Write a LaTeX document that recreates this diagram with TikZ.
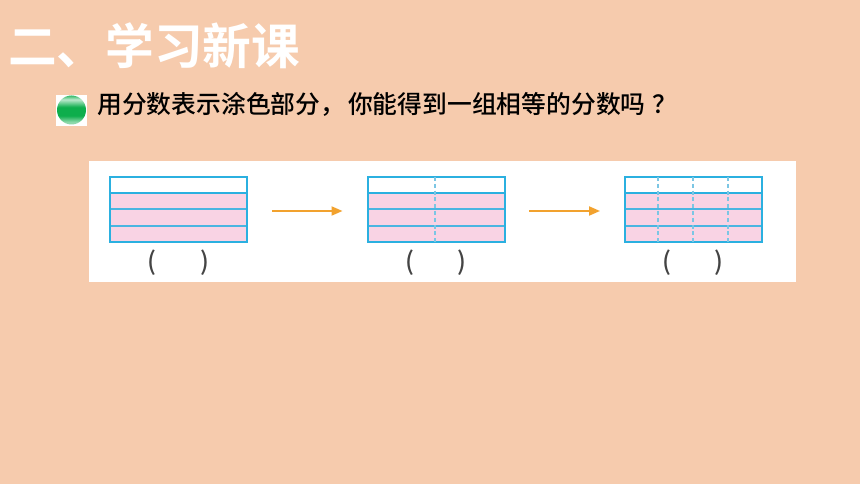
\documentclass[tikz,border=0pt]{standalone}
\usepackage{fontspec}
\setmainfont{Liberation Sans}
\newfontfamily\cjk{Noto Sans CJK SC Medium}
\newfontfamily\cjkb{Noto Sans CJK SC Bold}
\usetikzlibrary{arrows.meta}
\definecolor{bgp}{HTML}{F6CBAD}
\definecolor{barb}{HTML}{2BB0E0}
\definecolor{pinkf}{HTML}{F9D3E4}
\definecolor{arro}{HTML}{F2A22E}
\definecolor{dashb}{HTML}{7CC6E4}
\definecolor{gr}{HTML}{0EAE4C}
\definecolor{parc}{HTML}{444444}
\pgfdeclareverticalshading{ballshade}{100bp}{
  color(0bp)=(gr!50!white);
  color(25bp)=(gr!50!white);
  color(29bp)=(gr!45!white);
  color(40bp)=(gr);
  color(55bp)=(gr);
  color(68bp)=(gr!28!white);
  color(72bp)=(gr!60!white);
  color(75bp)=(gr!85!white);
  color(100bp)=(gr!85!white)}
\tikzset{
  x=1pt,y=-1pt,
  barline/.style={draw=barb,line width=2pt},
  thinbar/.style={draw=barb!85!pinkf,line width=2pt},
  dashline/.style={draw=dashb,line width=2pt,dash pattern=on 4pt off 2.8pt},
  flow/.style={draw=arro,line width=2pt,-{Triangle[length=11pt,width=9pt]}},
  paren/.style={inner sep=0pt,text=parc,font=\cjk\fontsize{25}{25}\selectfont},
}
\newcommand{\stripes}[1]{%
  \fill[pinkf] (#1,193) rectangle (#1+137,242);
  \draw[thinbar] (#1,209.5) -- (#1+137,209.5);
  \draw[thinbar] (#1,225.5) -- (#1+137,225.5);
  \draw[barline] (#1,193.5) -- (#1+137,193.5);
  \draw[barline] (#1,177) rectangle (#1+137,242);
}
\begin{document}
\begin{tikzpicture}
\useasboundingbox (0,0) rectangle (860,484);
\fill[bgp] (0,0) rectangle (860,484);
\node[anchor=west,inner sep=0pt,text=white] (title) at (8,46) {\cjkb\fontsize{48.7}{49}\selectfont 二、学习新课};
\fill[white] (56,95) rectangle (87,126);
\shade[shading=ballshade] (71.5,110) circle (14.5);
\node[anchor=west,inner sep=0pt,text=black] (q) at (97,104) {\cjk\fontsize{24.8}{25}\selectfont 用分数表示涂色部分，\kern3pt 你能得到一组相等的分数吗\kern7pt ？};
\fill[white] (89,161) rectangle (796,282);
\stripes{110}
\stripes{367.5}
\stripes{625}
\draw[dashline] (435,177) -- (435,242);
\draw[dashline] (658,177) -- (658,242);
\draw[dashline] (693,177) -- (693,242);
\draw[dashline] (727.5,177) -- (727.5,242);
\coordinate (a1s) at (272,211); \coordinate (a1e) at (342.5,211);
\coordinate (a2s) at (529,211); \coordinate (a2e) at (600,211);
\draw[flow] (a1s) -- (a1e);
\draw[flow] (a2s) -- (a2e);
\node[paren] (p1l) at (152,263) {(};
\node[paren] (p1r) at (205,263) {)};
\node[paren] (p2l) at (409.5,263) {(};
\node[paren] (p2r) at (462,263) {)};
\node[paren] (p3l) at (667,263) {(};
\node[paren] (p3r) at (719,263) {)};
\end{tikzpicture}
\end{document}
